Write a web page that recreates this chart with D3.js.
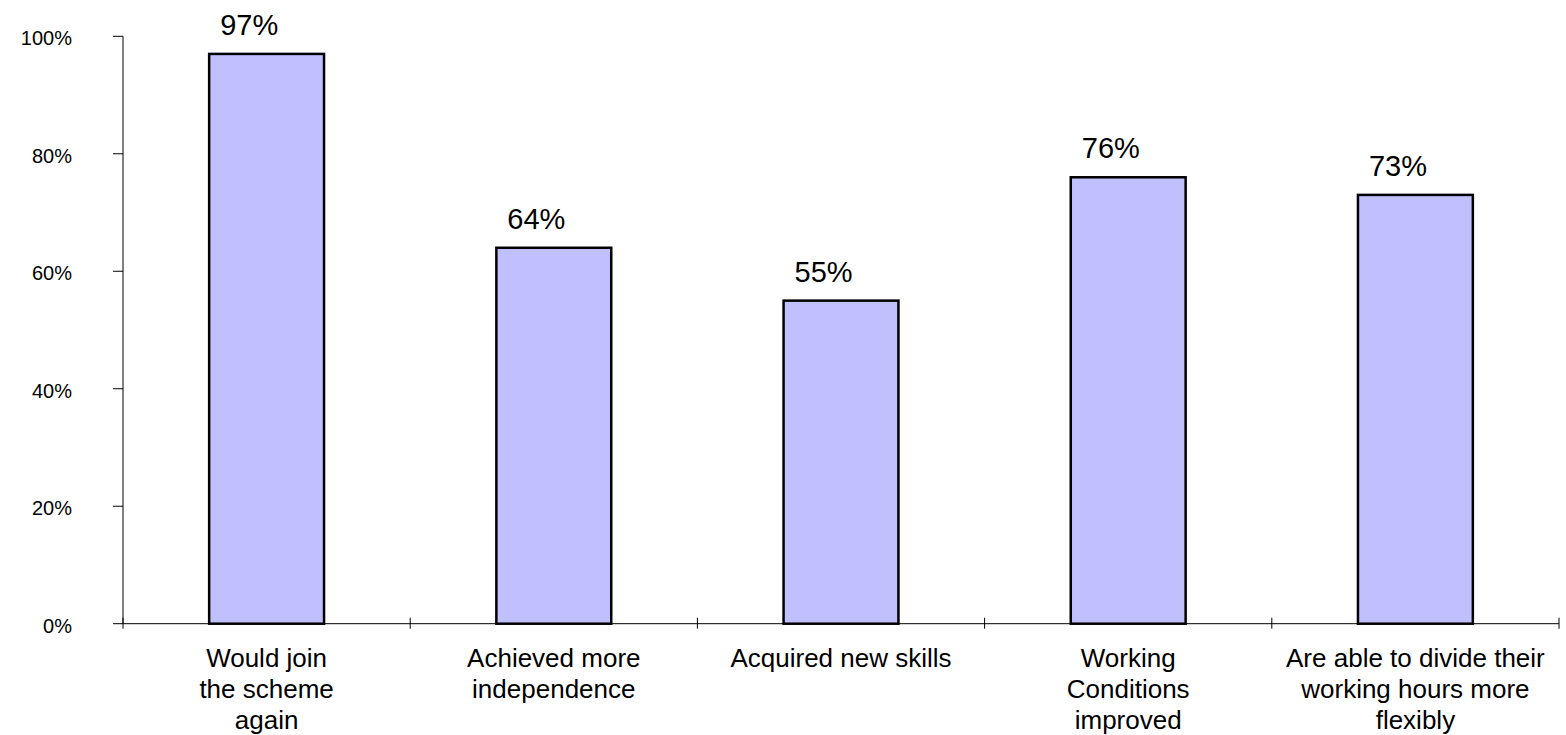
<!DOCTYPE html>
<html>
<head>
<meta charset="utf-8">
<script src="https://cdn.jsdelivr.net/npm/d3@7"></script>
<style>
  html, body { margin: 0; padding: 0; background: #fff; }
  svg { display: block; font-family: Arial, "Liberation Sans", sans-serif; }
</style>
</head>
<body>
<svg id="chart" width="1566" height="735"></svg>
<script>
const categories = [
  "Would join\nthe scheme\nagain",
  "Achieved more\nindependence",
  "Acquired new skills",
  "Working\nConditions\nimproved",
  "Are able to divide their\nworking hours more\nflexibly"
];
const values = [97, 64, 55, 76, 73];
const yTicks = [0, 20, 40, 60, 80, 100];

(function () {
const svg = d3.select("#chart");
const mLeft = 123, mRight = 1559, mTop = 36.3, mBottom = 623.7;

const x = d3.scaleBand().domain(categories).range([mLeft, mRight]).paddingInner(0.6).paddingOuter(0.3);
const xb = d3.scaleBand().domain(categories).range([mLeft, mRight]);
const y = d3.scaleLinear().domain([0, 100]).range([mBottom, mTop]);

// bars
svg.append("g").selectAll("rect").data(values).join("rect")
  .attr("x", (d, i) => x(categories[i]))
  .attr("y", d => y(d))
  .attr("width", x.bandwidth())
  .attr("height", d => mBottom - y(d))
  .attr("fill", "#C0C0FF")
  .attr("stroke", "#000")
  .attr("stroke-width", 2.5);

// y axis
const yAxis = svg.append("g");
yAxis.append("line").attr("x1", mLeft).attr("x2", mLeft).attr("y1", mTop).attr("y2", mBottom)
  .attr("stroke", "#000").attr("stroke-width", 1);
yAxis.selectAll("line.tick").data(yTicks).join("line").attr("class", "tick")
  .attr("x1", mLeft - 10).attr("x2", mLeft).attr("y1", d => y(d)).attr("y2", d => y(d))
  .attr("stroke", "#000").attr("stroke-width", 1);
yAxis.selectAll("text").data(yTicks).join("text")
  .attr("x", 72).attr("y", d => y(d)).attr("dy", "0.45em")
  .attr("text-anchor", "end").attr("font-size", 20).attr("fill", "#000")
  .text(d => d + "%");

// x axis
const xAxis = svg.append("g");
xAxis.append("line").attr("x1", mLeft).attr("x2", mRight).attr("y1", mBottom).attr("y2", mBottom)
  .attr("stroke", "#000").attr("stroke-width", 1);
const bounds = categories.map(c => xb(c)).concat([mRight]);
xAxis.selectAll("line.tick").data(bounds).join("line").attr("class", "tick")
  .attr("x1", d => d).attr("x2", d => d).attr("y1", mBottom - 6).attr("y2", mBottom + 5)
  .attr("stroke", "#000").attr("stroke-width", 1);

// category labels
const cl = svg.append("g").selectAll("text").data(categories).join("text")
  .attr("text-anchor", "middle").attr("font-size", 26).attr("fill", "#000")
  .attr("x", d => xb(d) + xb.bandwidth() / 2)
  .attr("y", mBottom + 43);
cl.each(function (d) {
  const t = d3.select(this);
  d.split("\n").forEach((line, i) => {
    t.append("tspan").attr("x", xb(d) + xb.bandwidth() / 2).attr("dy", i === 0 ? 0 : 31).text(line);
  });
});

// value labels
svg.append("g").selectAll("text").data(values).join("text")
  .attr("x", (d, i) => x(categories[i]) + 11)
  .attr("y", d => y(d) - 19)
  .attr("text-anchor", "start").attr("font-size", 29).attr("fill", "#000")
  .text(d => d + "%");
})();
</script>
</body>
</html>
